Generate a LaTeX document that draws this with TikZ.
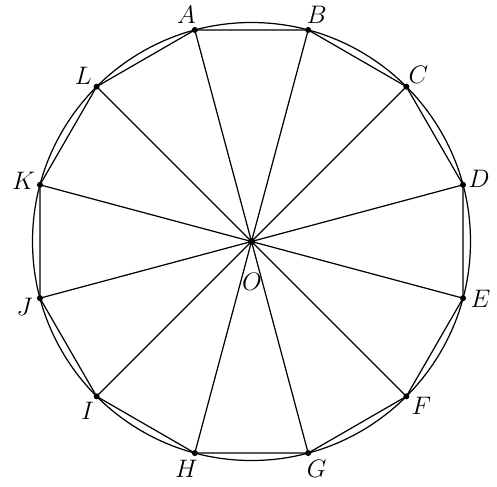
\documentclass[tikz,border=0pt]{standalone}
\usepackage{amsmath}
\usepackage{tikz}
\usepackage{xcolor}

\begin{document}
\begin{tikzpicture}[line width=0.7pt,
  vlabel/.style={font=\fontsize{13.5}{15}\selectfont},
  pt/.style={circle,fill=black,inner sep=0pt,minimum size=0.12cm}]
\useasboundingbox (-5.03,-4.89) rectangle (4.91,4.83);
\coordinate (O) at (0,0);
\draw (O) circle (4.38cm);
\foreach \v [count=\i] in {D,C,B,A,L,K,J,I,H,G,F,E}
  \coordinate (\v) at ({15+30*(\i-1)}:4.38cm);
\draw (A) -- (B) -- (C) -- (D) -- (E) -- (F) -- (G) -- (H) -- (I) -- (J) -- (K) -- (L) -- cycle;
\foreach \v in {A,B,C,D,E,F,G,H,I,J,K,L}
  \draw (O) -- (\v);
\foreach \v in {A,B,C,D,E,F,G,H,I,J,K,L}
  \node[pt] at (\v) {};
\node[pt,minimum size=0.14cm] at (O) {};
\foreach \v/\a in {A/106,B/74,C/45,D/15.5,E/-14,F/-44,G/-74,H/254,I/226,J/196,K/165,L/135.5}
  \node[vlabel] (lab\v) at (\a:4.72cm) {$\v$};
\node[vlabel] (labO) at (0.01,-0.8) {$O$};
\end{tikzpicture}
\end{document}
